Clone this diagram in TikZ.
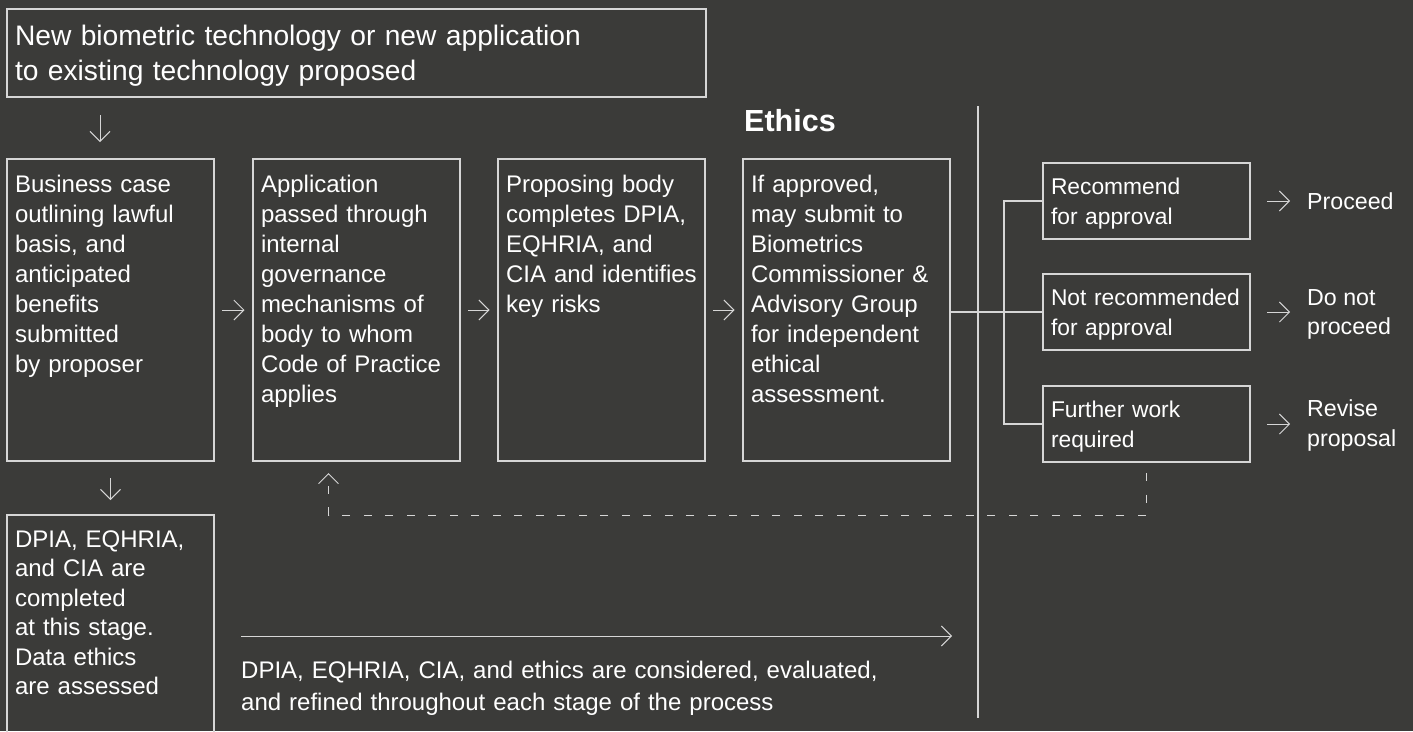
\documentclass[tikz,border=0pt]{standalone}
\usepackage{fontspec}
\setmainfont{Liberation Sans}
\usetikzlibrary{arrows.meta}
\definecolor{bgcol}{RGB}{59,59,57}
\definecolor{linecol}{RGB}{214,214,214}
\hyphenpenalty=10000
\exhyphenpenalty=10000
\tikzset{
  box/.style={draw=linecol, line width=1.1pt, anchor=north west, align=left,
    text=white, outer sep=0pt, inner xsep=8pt, inner ysep=0pt, text width=191pt},
  stage/.style={box, font=\fontsize{24}{30}\selectfont, text height=33.3pt, text depth=268.7pt},
  verdict/.style={box, font=\fontsize{22.8}{30}\selectfont, text height=31.5pt, text depth=44.5pt},
  outcome/.style={anchor=west, align=left, inner sep=0pt, text=white,
    font=\fontsize{23.2}{29.5}\selectfont},
  line/.style={draw=linecol, line width=1.1pt},
  arr/.style={draw=linecol, line width=0.9pt, -{Straight Barb[length=10pt, width=20pt]}},
  feedback/.style={arr, dash pattern=on 8pt off 13.5pt}
}
\begin{document}
\begin{tikzpicture}[x=1pt, y=-1pt]
  \fill[bgcol] (0,0) rectangle (1413,731);
  \useasboundingbox (0,0) rectangle (1413,731);

  \node[box, text width=683pt, text height=36pt, text depth=52pt,
    font=\fontsize{28.2}{35}\selectfont] (prop) at (7,9)
    {New biometric technology or new application\\to existing technology proposed};

  \node[stage] (b1) at (7,159) {Business case\\outlining lawful\\basis, and\\anticipated\\benefits\\submitted\\by proposer};
  \node[stage] (b2) at (253,159) {Application\\passed through\\internal\\governance\\mechanisms of\\body to whom\\Code of Practice\\applies};
  \node[stage] (b3) at (498,159) {Proposing body\\completes DPIA,\\EQHRIA, and\\CIA and identifies\\key risks};
  \node[stage] (b4) at (743,159) {If approved,\\may submit to\\Biometrics\\Commissioner \&\\Advisory Group\\for independent\\ethical\\assessment.};
  \node[stage, text height=32pt, text depth=260pt, font=\fontsize{24}{29.5}\selectfont] (b5) at (7,515)
    {DPIA, EQHRIA,\\and CIA are\\completed\\at this stage.\\Data ethics\\are assessed};

  \node[anchor=base west, inner sep=0pt, text=white, font=\bfseries\fontsize{30.5}{36}\selectfont] (eth) at (744,131) {Ethics};

  \node[verdict] (r1) at (1043,163) {Recommend\\for approval};
  \node[verdict] (r2) at (1043,274) {Not recommended\\for approval};
  \node[verdict] (r3) at (1043,386) {Further work\\required};

  \node[outcome] (o1) at (1307,201) {Proceed};
  \node[outcome] (o2) at (1307,314.5) {Do not\\proceed};
  \node[outcome] (o3) at (1307,425.5) {Revise\\proposal};

  \node[anchor=north west, align=left, inner sep=0pt, text=white, text width=700pt,
    text height=26.7pt, font=\fontsize{24}{31.5}\selectfont] (note) at (241,652)
    {DPIA, EQHRIA, CIA, and ethics are considered, evaluated,\\and refined throughout each stage of the process};

  \coordinate (fork) at (1004,312);
  \coordinate (flowend) at (952,636);

  % main flow
  \draw[arr, shorten <=18pt, shorten >=17pt] ([xshift=93pt]prop.south west) -- ([xshift=93pt]b1.north west);
  \draw[arr, shorten <=8pt, shorten >=8.5pt] (b1) -- (b2);
  \draw[arr, shorten <=8pt, shorten >=8.5pt] (b2) -- (b3);
  \draw[arr, shorten <=8pt, shorten >=8.5pt] (b3) -- (b4);
  \draw[arr, shorten <=17pt, shorten >=15pt] (b1) -- (b5);

  % ethics split
  \draw[line] (978,106) -- (978,718);
  \draw[line] (b4.east |- r2.west) -- (r2.west);
  \draw[line] (r1.west) -| (fork) |- (r3.west);
  \draw[arr, shorten <=17pt, shorten >=17pt] (r1.east) -- (r1.east -| o1.west);
  \draw[arr, shorten <=17pt, shorten >=17pt] (r2.east) -- (r2.east -| o2.west);
  \draw[arr, shorten <=17pt, shorten >=17pt] (r3.east) -- (r3.east -| o3.west);

  % back to governance
  \draw[feedback] ([yshift=-11pt]r3.south) -- (r3.south |- b5.north) -| ([xshift=-28pt, yshift=-12pt]b2.south);

  \draw[arr] ([yshift=16pt]note.north west) -- (flowend);
\end{tikzpicture}
\end{document}
